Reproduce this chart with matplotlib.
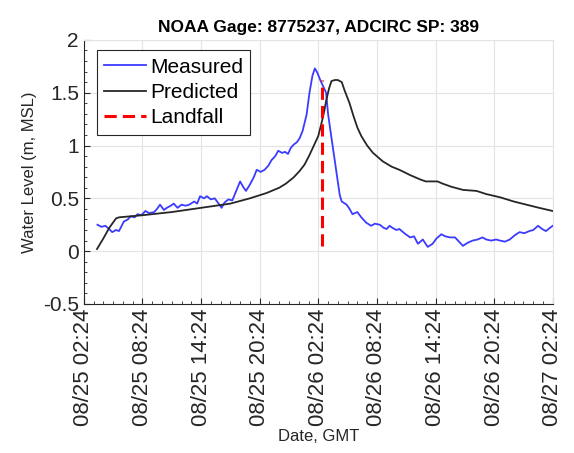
import numpy as np
import pandas as pd
import matplotlib
matplotlib.use("Agg")
import matplotlib.pyplot as plt
import matplotlib.dates as mdates
from matplotlib.ticker import FormatStrFormatter, MultipleLocator

plt.rcParams['font.family'] = ['Liberation Sans', 'DejaVu Sans']
plt.rcParams['axes.unicode_minus'] = False

# --- data (hours after 08/25 02:24 GMT) ---
start = pd.Timestamp("2017-08-25 02:24")

meas_hours = [1.4, 1.8, 2.2, 2.6, 2.9, 3.3, 3.6, 4.1, 4.5, 4.8, 5.2, 5.5, 5.9, 6.3, 6.7,
              7.2, 7.5, 7.8, 8.2, 8.5, 8.9, 9.2, 9.6, 10.0, 10.4, 10.8, 11.3, 11.6, 11.9,
              12.3, 12.6, 13.0, 13.4, 13.8, 14.1, 14.4, 14.8, 15.2, 15.6, 16.0, 16.3, 16.6,
              17.0, 17.4, 17.7, 18.1, 18.5, 18.9, 19.2, 19.6, 19.9, 20.3, 20.6, 20.9, 21.2,
              21.5, 21.8, 22.1, 22.4, 22.8, 23.1, 23.4, 23.65, 23.9, 24.2, 24.5, 24.8, 25.0,
              25.4, 25.7, 25.9, 26.2, 26.4, 26.9, 27.2, 27.5, 28.0, 28.4, 28.9, 29.4, 29.8,
              30.3, 30.7, 31.0, 31.3, 31.6, 32.0, 32.3, 32.8, 33.4, 33.8, 34.2, 34.7, 35.2,
              35.7, 36.1, 36.6, 37.0, 37.5, 38.0, 38.4, 38.8, 39.3, 39.8, 40.3, 40.8, 41.2,
              41.7, 42.2, 42.6, 43.1, 43.6, 44.1, 44.6, 45.1, 45.6, 46.0, 46.5, 46.9, 47.3,
              47.7, 48.0]
meas_level = [0.25, 0.23, 0.24, 0.21, 0.18, 0.20, 0.19, 0.28, 0.30, 0.33, 0.32, 0.35, 0.34,
              0.38, 0.36, 0.37, 0.40, 0.44, 0.39, 0.41, 0.43, 0.45, 0.41, 0.44, 0.43, 0.44,
              0.47, 0.45, 0.52, 0.50, 0.52, 0.49, 0.50, 0.45, 0.41, 0.46, 0.49, 0.48, 0.57,
              0.66, 0.61, 0.57, 0.63, 0.70, 0.77, 0.75, 0.77, 0.81, 0.86, 0.90, 0.95, 0.93,
              0.94, 0.92, 0.98, 1.01, 1.03, 1.07, 1.14, 1.29, 1.50, 1.66, 1.73, 1.69, 1.62,
              1.56, 1.50, 1.30, 1.04, 0.85, 0.72, 0.53, 0.47, 0.44, 0.40, 0.35, 0.37, 0.32,
              0.27, 0.24, 0.26, 0.25, 0.22, 0.21, 0.24, 0.22, 0.20, 0.21, 0.17, 0.13, 0.14,
              0.07, 0.11, 0.04, 0.07, 0.12, 0.16, 0.14, 0.13, 0.13, 0.09, 0.05, 0.08, 0.10,
              0.11, 0.13, 0.11, 0.10, 0.11, 0.10, 0.09, 0.11, 0.15, 0.18, 0.17, 0.19, 0.20,
              0.24, 0.21, 0.19, 0.22, 0.24]

pred_hours = [1.35, 2.0, 2.6, 3.3, 3.6, 6.0, 9.0, 12.0, 15.0, 17.0, 18.7, 20.0, 20.7, 21.5,
              22.1, 22.6, 23.1, 23.5, 24.0, 24.3, 24.6, 24.8, 25.1, 25.35, 25.7, 26.0, 26.4,
              26.7, 27.2, 27.6, 28.0, 28.4, 29.0, 29.6, 30.6, 31.5, 32.3, 33.4, 34.4, 35.0,
              35.7, 36.2, 36.7, 37.6, 38.8, 40.2, 41.2, 42.6, 44.0, 45.3, 46.6, 48.0]
pred_level = [0.02, 0.12, 0.22, 0.31, 0.32, 0.34, 0.37, 0.41, 0.45, 0.50, 0.55, 0.60, 0.64,
              0.70, 0.76, 0.82, 0.91, 0.99, 1.09, 1.20, 1.32, 1.42, 1.54, 1.61, 1.62, 1.62,
              1.60, 1.52, 1.40, 1.28, 1.17, 1.09, 1.00, 0.93, 0.85, 0.80, 0.77, 0.72, 0.68,
              0.66, 0.66, 0.66, 0.64, 0.61, 0.58, 0.57, 0.54, 0.51, 0.47, 0.44, 0.41, 0.38]

landfall_hour = 24.4
landfall_range = [0.05, 1.62]

tick_hours = [0, 6, 12, 18, 24, 30, 36, 42, 48]

meas_t = start + pd.to_timedelta(meas_hours, unit='h')
pred_t = start + pd.to_timedelta(pred_hours, unit='h')
land_t = start + pd.Timedelta(hours=landfall_hour)
ticks = start + pd.to_timedelta(tick_hours, unit='h')
minor_ticks = start + pd.to_timedelta(np.arange(0, 49), unit='h')

fig = plt.figure(figsize=(5.74, 4.53), dpi=100)
ax = fig.add_axes([0.146, 0.329, 0.963 - 0.146, 0.912 - 0.329])

ax.plot(meas_t, meas_level, color='#3b3bff', lw=1.3, label='Measured')
ax.plot(pred_t, pred_level, color='#262626', lw=1.3, label='Predicted')
ax.plot([land_t, land_t], landfall_range, color='#ff0000', lw=2.2,
        linestyle=(0, (4, 2)), label='Landfall')

ax.set_xlim(ticks[0], ticks[-1])
ax.set_ylim(-0.5, 2)
ax.set_xticks(ticks)
ax.set_xticks(minor_ticks, minor=True)
ax.xaxis.set_major_formatter(mdates.DateFormatter('%m/%d %H:%M'))
ax.yaxis.set_major_locator(MultipleLocator(0.5))
ax.yaxis.set_minor_locator(MultipleLocator(0.1))
ax.yaxis.set_major_formatter(FormatStrFormatter('%g'))

ax.tick_params(which='both', direction='in', colors='#262626', labelsize=15, top=False, right=False)
ax.tick_params(axis='x', labelsize=16)
ax.tick_params(which='major', length=4)
ax.tick_params(which='minor', length=2)
for lab in ax.get_xticklabels():
    lab.set_rotation(90)

ax.grid(True, which='major', color='#e3e3e3', lw=0.8)
ax.set_axisbelow(True)
for s in ['top', 'right']:
    ax.spines[s].set_color('#e3e3e3')
for s in ['left', 'bottom']:
    ax.spines[s].set_color('#262626')

ax.set_title('NOAA Gage: 8775237, ADCIRC SP: 389', fontsize=12.5, fontweight='bold', pad=6)
ax.set_xlabel('Date, GMT', fontsize=12, color='#262626', labelpad=2)
ax.set_ylabel('Water Level (m, MSL)', fontsize=12, color='#262626', labelpad=4)

leg = ax.legend(loc='upper left', bbox_to_anchor=(0.028, 0.96), borderaxespad=0,
                fontsize=15, fancybox=False, framealpha=1, edgecolor='#262626',
                handlelength=2.0, handletextpad=0.2, borderpad=0.35, labelspacing=0.3)
leg.get_frame().set_linewidth(0.8)

fig.savefig('out.png', dpi=100)
